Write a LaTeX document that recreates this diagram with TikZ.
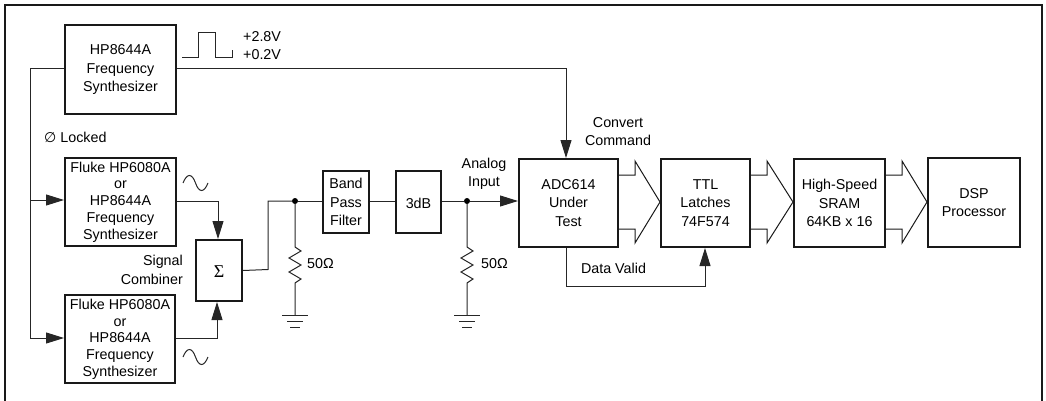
\documentclass[tikz,border=0pt]{standalone}
\usepackage{fontspec}
\setmainfont{Liberation Sans}
\newfontfamily\symfont{DejaVu Sans}
\newfontfamily\serfont{Liberation Serif}
\usetikzlibrary{arrows.meta,calc}
\tikzset{
  x=1pt,y=-1pt,
  box/.style={draw=black!90,line width=2pt,inner sep=0pt,align=center,anchor=north west,font=\fontsize{14.3}{18.7}\selectfont,execute at begin node={\rule{0pt}{13.5pt}}},
  tightbox/.style={box,font=\fontsize{14.3}{16.7}\selectfont},
  wire/.style={draw=black!85,line width=1pt},
  feed/.style={wire,-{Triangle[length=18pt,width=11pt]}},
  bus/.style={draw=black!90,line width=1pt,line join=miter},
  lbl/.style={inner sep=0pt,align=center,font=\fontsize{14.3}{18.6}\selectfont},
  dot/.style={circle,fill=black,inner sep=0pt,minimum size=6pt},
  res/.style={wire,line join=miter},
}
\newcommand{\mkbox}[7][box]{\node[#1,minimum width=#5 pt-#3 pt,minimum height=#6 pt-#4 pt] (#2) at (#3,#4) {#7};}
\newcommand{\hollow}[3]{%
  \draw[bus] (#1.east |- 0,175) -- ++(16,0) -- ++(0,-14) -- (#2.west |- 0,#3) -- ($(#1.east |- 0,175)+(16,68)$) -- ++(0,-14) -- (#1.east |- 0,229);
}
\newcommand{\resgnd}[2]{%
  \coordinate (#1a) at (#2,247);
  \coordinate (#1b) at (#2,315);
  \draw[res] (#1) -- (#1a) -- ++(6,4) -- ++(-12,7) -- ++(12,7) -- ++(-12,7) -- ++(12,7) -- ++(-6,4) -- (#1b);
  \draw[wire] ($(#1b)+(-13,0)$) -- ($(#1b)+(13,0)$);
  \draw[wire] ($(#1b)+(-8,6)$) -- ($(#1b)+(8,6)$);
  \draw[wire] ($(#1b)+(-5,12)$) -- ($(#1b)+(5,12)$);
}
\newcommand{\sine}[2]{%
  \draw[wire] (#1,#2) .. controls (#1+4,#2-10) and (#1+9,#2-10) .. (#1+12.5,#2) .. controls (#1+16,#2+10) and (#1+21,#2+10) .. (#1+25,#2);
}
\begin{document}
\begin{tikzpicture}
\useasboundingbox (0,0) rectangle (1046,401);
\draw[draw=black!90,line width=2pt] (5,420) -- (5,5) -- (1042,5) -- (1042,420);
\mkbox{syn}{64}{24}{175}{113}{HP8644A\\Frequency\\Synthesizer}
\mkbox[tightbox]{flA}{64}{157}{175}{245}{Fluke HP6080A\\or\\HP8644A\\Frequency\\Synthesizer}
\mkbox[tightbox]{flB}{64}{294}{174}{382}{Fluke HP6080A\\or\\HP8644A\\Frequency\\Synthesizer}
\mkbox{sum}{195}{239}{241}{300}{\serfont\fontsize{18}{18}\selectfont Σ}
\mkbox{bpf}{322}{170}{368}{232}{Band\\Pass\\Filter}
\mkbox{att}{395}{170}{440}{232}{3dB}
\mkbox{adc}{518}{158}{617}{246}{ADC614\\Under\\Test}
\mkbox{ttl}{660}{158}{749}{246}{TTL\\Latches\\74F574}
\mkbox{ram}{793}{158}{884}{246}{High-Speed\\SRAM\\64KB x 16}
\mkbox{dsp}{927}{157}{1019}{246}{DSP\\Processor}
\node[lbl,anchor=west] (hi) at (243,37) {+2.8V};
\node[lbl,anchor=west] (lo) at (243,55) {+0.2V};
\node[lbl,anchor=west] (lock) at (44,137) {{\symfont\fontsize{14}{16}\selectfont ∅} Locked};
\node[lbl,align=right,anchor=east] (comb) at (183,270) {Signal\\Combiner};
\node[lbl,anchor=west] (r1) at (307,264) {50Ω};
\node[lbl,anchor=west] (r2) at (481,264) {50Ω};
\node[lbl] (conv) at (618,131.5) {Convert\\Command};
\node[lbl] (ana) at (484,174) {Analog\\Input};
\node[lbl] (dv) at (613.5,268) {Data Valid};
\node[dot] (j1) at (295,201) {};
\node[dot] (j2) at (467,201) {};
\draw[wire] (182,58) -- (198,58) -- (198,33) -- (215,33) -- (215,58) -- (232,58) -- (232,50);
\sine{183}{183}
\sine{183}{357}
\draw[wire] (syn.west |- 0,69) -- (30,69) -- (30,338);
\draw[feed] (30,200) -- (flA.west |- 0,200);
\draw[feed] (30,338) -- (flB.west |- 0,338);
\draw[feed] (syn.east |- 0,69) -- (566,69) -- (adc.north -| 566,0);
\draw[feed] (flA.east |- 0,201) -- (218,201) -- (sum.north -| 218,0);
\draw[feed] (flB.east |- 0,338) -- (217,338) -- (sum.south -| 217,0);
\draw[wire] (sum.east) -- (268,269.5) -- (268,201) -- (j1);
\draw[wire] (j1) -- (bpf.west |- 0,201);
\draw[wire] (bpf.east |- 0,201) -- (att.west |- 0,201);
\draw[wire] (att.east |- 0,201) -- (j2);
\draw[feed] (j2) -- (adc.west |- 0,201);
\draw[feed] (adc.south -| 566,0) -- (566,286) -- (705,286) -- (ttl.south -| 705,0);
\resgnd{j1}{295}
\resgnd{j2}{467}
\hollow{adc}{ttl}{202}
\hollow{ttl}{ram}{202}
\hollow{ram}{dsp}{202}
\end{tikzpicture}
\end{document}
